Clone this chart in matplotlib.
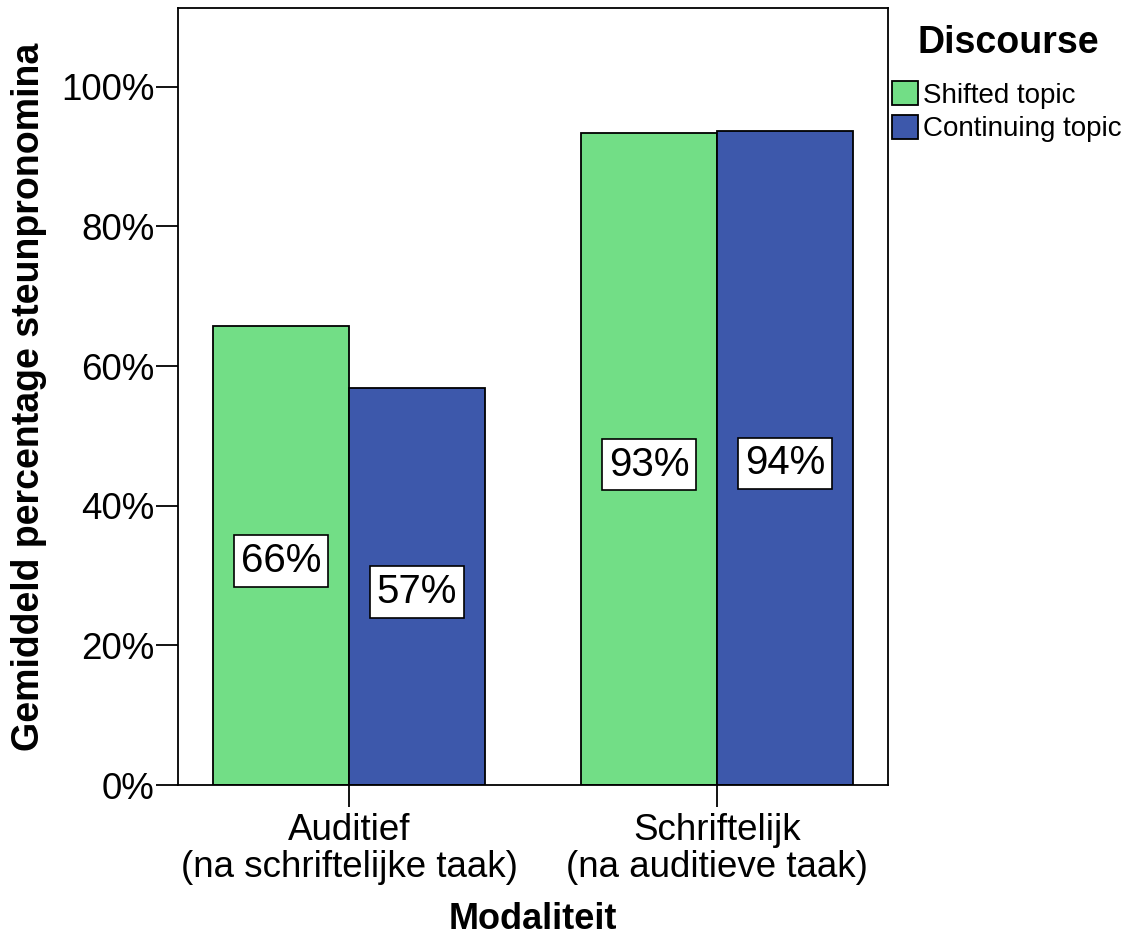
import matplotlib.pyplot as plt
from matplotlib.ticker import FuncFormatter
import numpy as np

plt.rcParams['font.family'] = ['Liberation Sans', 'DejaVu Sans']

categories = ["Auditief\n(na schriftelijke taak)", "Schriftelijk\n(na auditieve taak)"]
series_names = ["Shifted topic", "Continuing topic"]
shifted = [65.8, 93.4]
continuing = [56.8, 93.7]
colors = ["#72DE86", "#3D58AB"]

fig = plt.figure(figsize=(11.31, 9.38), dpi=100)
ax = fig.add_axes([0.1574, 0.1631, 0.6278, 0.8284])

x = np.arange(len(categories))
width = 0.3696
for i, (vals, name) in enumerate(zip([shifted, continuing], series_names)):
    bars = ax.bar(x + (i - 0.5) * width, vals, width, color=colors[i],
                  edgecolor="black", linewidth=1.3, label=name)
    ax.bar_label(bars, labels=["%d%%" % round(v) for v in vals], label_type="center",
                 fontsize=29, padding=-4,
                 bbox=dict(boxstyle="square,pad=0.17", facecolor="white",
                           edgecolor="black", linewidth=1.2))

ax.set_xlim(-0.4647, 1.4647)
ax.set_ylim(0, 111.3)
ax.set_yticks([0, 20, 40, 60, 80, 100])
ax.yaxis.set_major_formatter(FuncFormatter(lambda v, p: "%d%%" % v))
ax.set_xticks(x)
ax.set_xticklabels(categories, linespacing=1.1)
ax.tick_params(axis="both", direction="out", length=16, width=1.3, labelsize=26.5, pad=1)
ax.tick_params(axis="x", pad=4)
for s in ax.spines.values():
    s.set_linewidth(1.3)

ax.set_xlabel("Modaliteit", fontsize=26, fontweight="bold", labelpad=12)
ax.set_ylabel("Gemiddeld percentage steunpronomina", fontsize=27, fontweight="bold", labelpad=10)

# legend title drawn on its own so the entries can sit a bit lower
fig.text(1008 / 1131, 1 - 43 / 938, "Discourse", fontsize=27, fontweight="bold",
         ha="center", va="center")
leg = ax.legend(loc="upper left", bbox_to_anchor=(892 / 1131, 1 - 81 / 938),
                bbox_transform=fig.transFigure,
                frameon=False, fontsize=20, handlelength=0.95, handleheight=0.95,
                handletextpad=0.15, labelspacing=0.22, borderaxespad=0,
                borderpad=0)
for h in leg.legend_handles:
    h.set_linewidth(1.3)

fig.savefig("out.png", dpi=100)
